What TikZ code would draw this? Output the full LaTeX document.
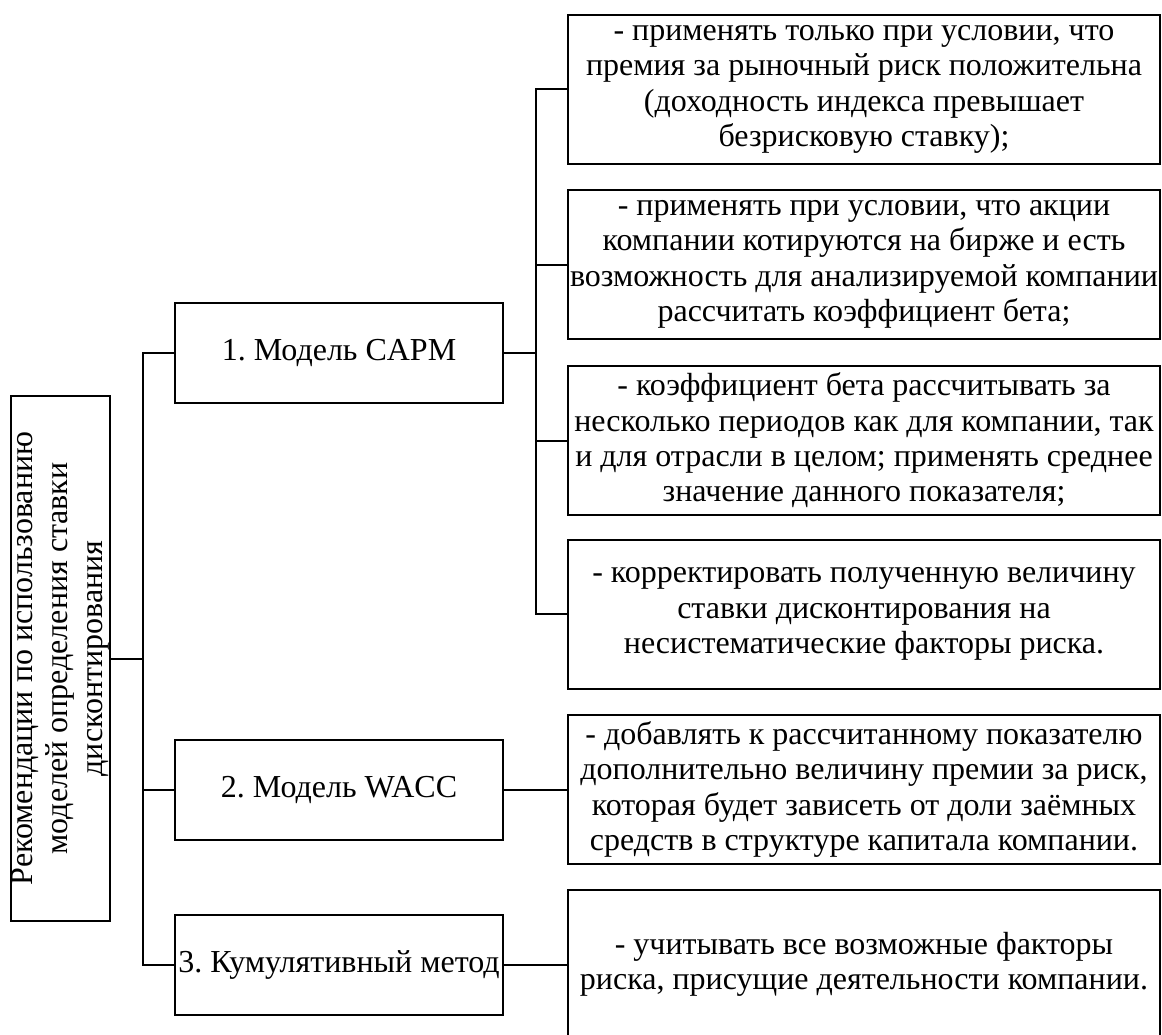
\documentclass[tikz,border=0pt]{standalone}
\usepackage{fontspec}
\setmainfont{Liberation Serif}
\newfontfamily\diagfont{Liberation Serif}
\begin{document}
\frenchspacing
\begin{tikzpicture}[x=0.75pt,y=-0.75pt,
  box/.style={draw, line width=1.5pt, inner sep=0pt, align=center,
    font=\diagfont\fontsize{24}{26.5}\selectfont},
  rbox/.style={box, minimum width=444pt, minimum height=111.75pt},
  mbox/.style={box, minimum width=246pt, minimum height=75pt},
  conn/.style={line width=1.5pt, line cap=rect}]
\useasboundingbox (0,0) rectangle (1162,1034);

\node[box, rotate=90, minimum width=393.75pt, minimum height=74.25pt] (root) at (60.5,658.5)
  {Рекомендации по использованию\\моделей определения ставки\\дисконтирования};

\node[mbox] (capm) at (339,352.5) {1. Модель CAPM};
\node[mbox] (wacc) at (339,789.5) {2. Модель WACC};
\node[mbox] (kum) at (339,964.5) {3. Кумулятивный метод};

\node[rbox] (r1) at (864,89.5) {- применять только при условии, что\\премия за рыночный риск положительна\\(доходность индекса превышает\\безрисковую ставку);};
\node[rbox] (r2) at (864,264.5) {- применять при условии, что акции\\компании котируются на бирже и есть\\возможность для анализируемой компании\\рассчитать коэффициент бета;};
\node[rbox] (r3) at (864,440.5) {- коэффициент бета рассчитывать за\\несколько периодов как для компании, так\\и для отрасли в целом; применять среднее\\значение данного показателя;};
\node[rbox] (r4) at (864,614) {- корректировать полученную величину\\ставки дисконтирования на\\несистематические факторы риска.};
\node[rbox] (r5) at (864,789.5) {- добавлять к рассчитанному показателю\\дополнительно величину премии за риск,\\которая будет зависеть от доли заёмных\\средств в структуре капитала компании.};
\node[rbox] (r6) at (864,964.5) {- учитывать все возможные факторы\\риска, присущие деятельности компании.};

\coordinate (j1) at (143,658.5);
\coordinate (j2) at (536,352.5);

\draw[conn] (root.south) -- (j1);
\draw[conn] (capm.west) -- (capm.west -| j1) -- (kum.west -| j1) -- (kum.west);
\draw[conn] (wacc.west) -- (wacc.west -| j1);

\draw[conn] (capm.east) -- (j2);
\draw[conn] (r1.west) -- (r1.west -| j2) -- (r4.west -| j2) -- (r4.west);
\draw[conn] (r2.west) -- (r2.west -| j2);
\draw[conn] (r3.west) -- (r3.west -| j2);

\draw[conn] (wacc.east) -- (r5.west);
\draw[conn] (kum.east) -- (r6.west);
\end{tikzpicture}
\end{document}
